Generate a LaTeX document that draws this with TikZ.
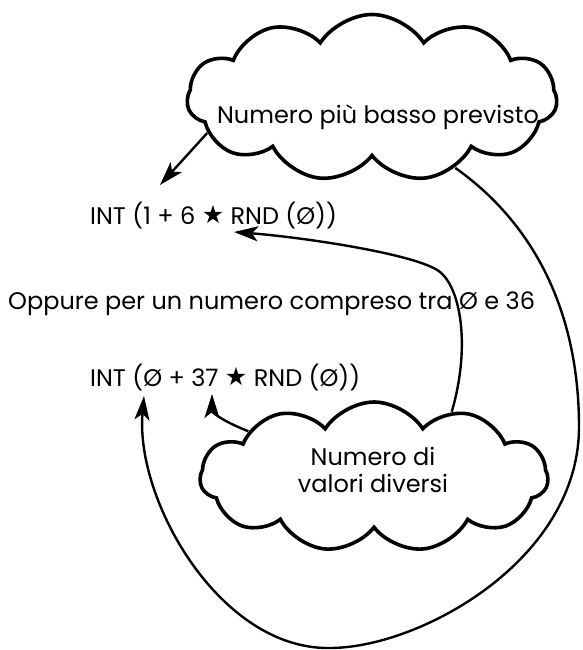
\documentclass[tikz,border=0pt]{standalone}
\usepackage{fontspec}
\setmainfont{Poppins}
\newfontfamily\symfont{DejaVu Sans}
\usetikzlibrary{shapes.symbols,arrows.meta}
\newcommand{\starsym}{\raisebox{1pt}{\symfont\fontsize{25}{25}\selectfont ★}}

\begin{document}
\begin{tikzpicture}[x=1pt,y=1pt,
    every node/.style={font=\fontsize{24}{27}\selectfont, inner sep=0pt},
    puffy/.style={cloud, cloud puffs=11, cloud puff arc=115, draw, line width=3.6pt},
    arr/.style={-{Stealth[length=24pt,width=15pt,inset=6pt]}, line width=2.4pt}]
    \useasboundingbox (0,0) rectangle (582,650);

    % the two clouds and their texts
    \node[puffy, minimum width=370pt, minimum height=167pt] (cloudA) at (372,552) {};
    \node (lowtext) at (378,533) {Numero più basso previsto};
    \node[puffy, minimum width=348pt, minimum height=150pt] (cloudB) at (374,173) {};
    \node[align=center] (counttext) at (373,180) {Numero di\\valori diversi};

    % the formulas
    \node[anchor=base west] (formA) at (90,425) {INT (1 + 6 \starsym\ RND (Ø))};
    \node[anchor=base west] (rangetext) at (8,340) {Oppure per un numero compreso tra Ø e 36};
    \node[anchor=base west] (formB) at (90,263) {INT (Ø + 37 \starsym\ RND (Ø))};

    \coordinate (tipA) at (160,465);
    \coordinate (tipB) at (234,418);
    \coordinate (tipC) at (212,256);
    \coordinate (tipD) at (144,254);

    \draw[arr] (cloudA.192) -- (tipA);
    \draw[arr] (cloudB.40) .. controls (470,300) and (462,360) .. (440,378)
        .. controls (418,396) and (300,413) .. (tipB);
    \draw[arr] (cloudB.160) .. controls (220,230) and (212,238) .. (tipC);
    \draw[arr] (cloudA.-40) .. controls (540,422) and (579,330) .. (579,223)
        .. controls (579,90) and (420,2) .. (330,2)
        .. controls (220,0) and (135,150) .. (tipD);
\end{tikzpicture}
\end{document}
